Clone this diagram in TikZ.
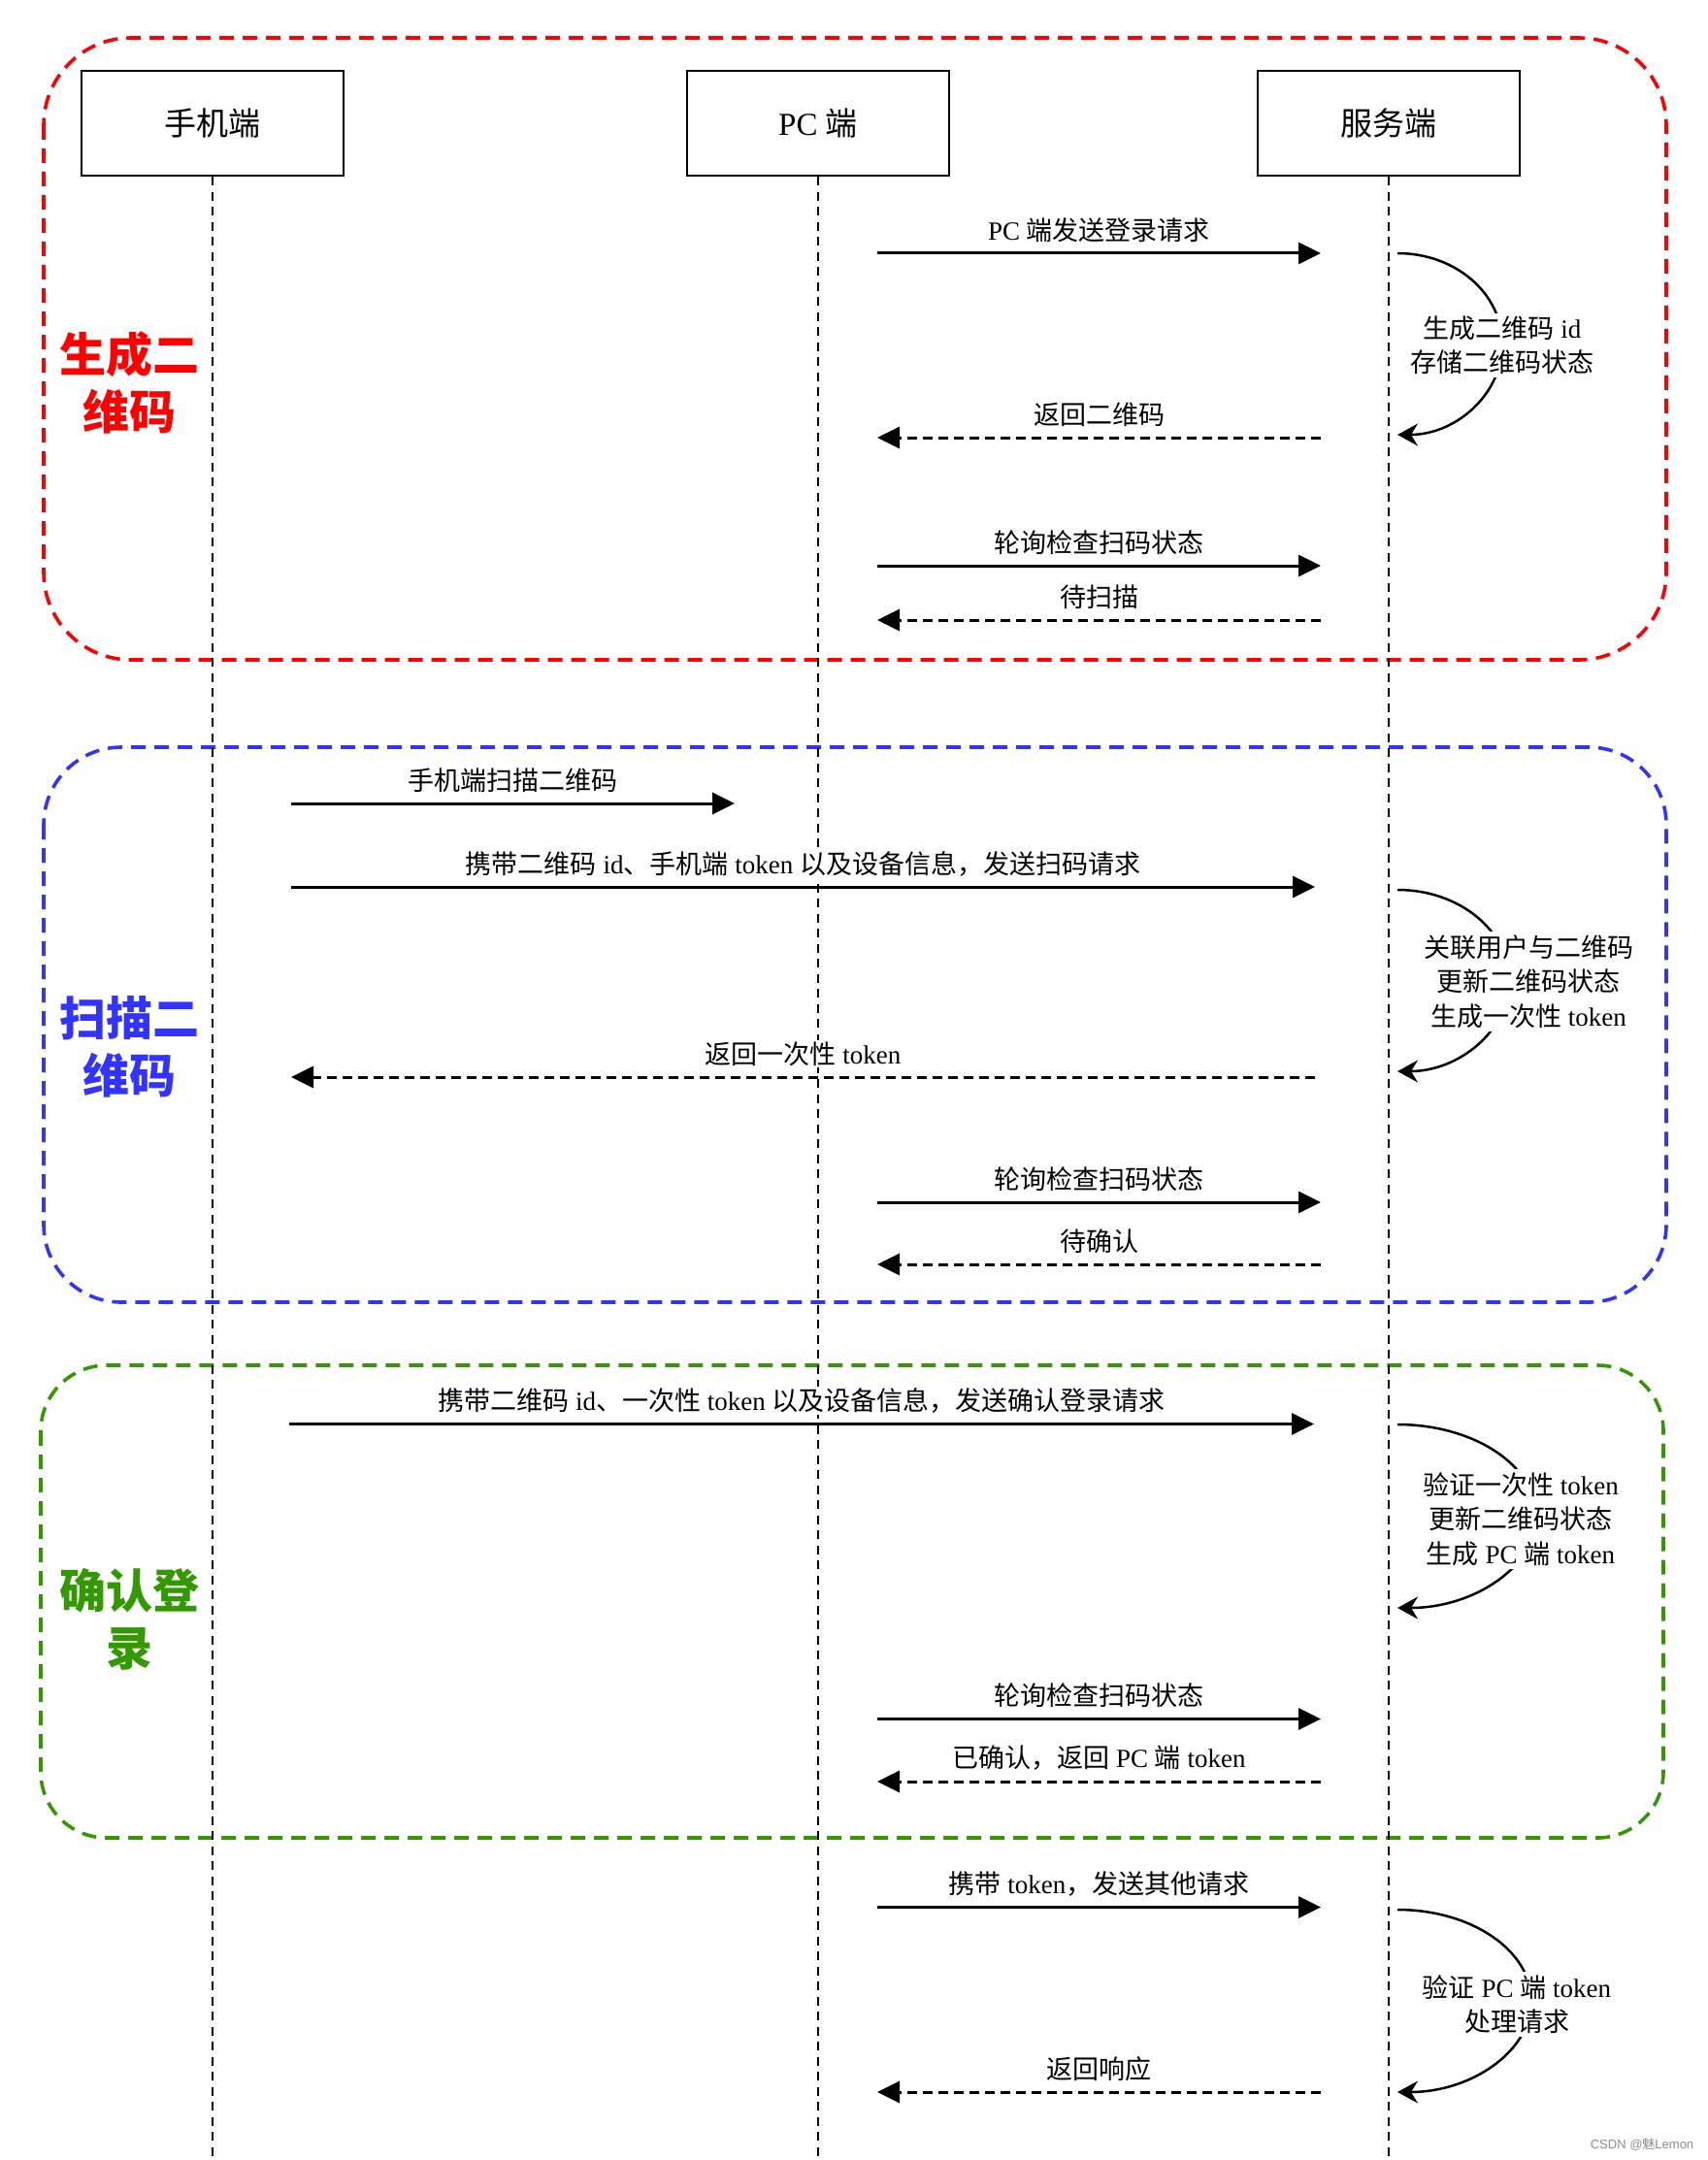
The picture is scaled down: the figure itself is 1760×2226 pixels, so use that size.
\documentclass[tikz,border=0pt]{standalone}
\usepackage{fontspec}
\setmainfont{Liberation Serif}
\newfontfamily\cjk{Noto Sans CJK SC}
\newfontfamily\wmfont{Liberation Sans}
\usetikzlibrary{arrows.meta}
\newcommand\zh[1]{{\cjk #1}}
\definecolor{grpred}{HTML}{FF0000}
\definecolor{grpblue}{HTML}{3333FF}
\definecolor{grpgreen}{HTML}{339900}
\newcommand\sdmsg[6]{%
  \coordinate (#1s) at (#2,#4);
  \coordinate (#1e) at (#3,#4);
  \draw[#5] (#1s) -- (#1e) node[lbl, midway, yshift=24pt] (#1t) {#6};
}
\begin{document}
\begin{tikzpicture}[x=1pt,y=-1pt,
  header/.style={draw, line width=2.7pt, minimum width=270pt, minimum height=108pt, font=\fontsize{33}{40}\selectfont, inner sep=0pt},
  lifeline/.style={line width=2.4pt, dash pattern=on 9pt off 6.5pt},
  group/.style={line width=3.6pt, dash pattern=on 15pt off 9pt},
  grouplbl/.style={font=\cjk\bfseries\fontsize{48}{59}\selectfont, align=center, inner sep=0pt},
  msgsolid/.style={line width=3pt, -{Triangle[length=23pt,width=22pt]}},
  msgdash/.style={msgsolid, dash pattern=on 10pt off 6pt},
  lbl/.style={font=\fontsize{27}{35.5}\selectfont, fill=white, inner sep=2pt},
  selfloop/.style={line width=2.5pt, -{Stealth[length=21pt,width=23pt,inset=7pt]}},
  looplbl/.style={lbl, align=center, inner sep=3pt},
]
\useasboundingbox (0,0) rectangle (1760,2226);
\fill[white] (0,0) rectangle (1760,2226);

% groups
\draw[group, grpred, rounded corners=90pt] (45,39) rectangle (1717,680);
\draw[group, grpblue, rounded corners=80pt] (45,770) rectangle (1717,1342);
\draw[group, grpgreen, rounded corners=68pt] (42,1407) rectangle (1714,1894);

\node[grouplbl, text=grpred] (g1) at (133,394.5) {生成二\\维码};
\node[grouplbl, text=grpblue] (g2) at (133,1079) {扫描二\\维码};
\node[grouplbl, text=grpgreen] (g3) at (133,1669) {确认登\\录};

% headers and lifelines
\node[header] (mob) at (219,127) {\zh{手机端}};
\node[header] (pc) at (843,127) {PC \zh{端}};
\node[header] (srv) at (1431,127) {\zh{服务端}};
\coordinate (mobEnd) at (219,2226);
\coordinate (pcEnd) at (843,2226);
\coordinate (srvEnd) at (1431,2226);
\draw[lifeline] (mob.south) -- (mobEnd);
\draw[lifeline] (pc.south) -- (pcEnd);
\draw[lifeline] (srv.south) -- (srvEnd);

% messages
\sdmsg{m1}{904}{1361}{261}{msgsolid}{PC \zh{端发送登录请求}}
\sdmsg{m2}{1361}{904}{451}{msgdash}{\zh{返回二维码}}
\sdmsg{m3}{904}{1361}{583}{msgsolid}{\zh{轮询检查扫码状态}}
\sdmsg{m4}{1361}{904}{639}{msgdash}{\zh{待扫描}}
\sdmsg{m5}{300}{757}{828}{msgsolid}{\zh{手机端扫描二维码}}
\sdmsg{m6}{300}{1355}{914}{msgsolid}{\zh{携带二维码} id\zh{、手机端} token \zh{以及设备信息，发送扫码请求}}
\sdmsg{m7}{1355}{300}{1110}{msgdash}{\zh{返回一次性} token}
\sdmsg{m8}{904}{1361}{1239}{msgsolid}{\zh{轮询检查扫码状态}}
\sdmsg{m9}{1361}{904}{1303}{msgdash}{\zh{待确认}}
\sdmsg{m10}{298}{1354}{1467.5}{msgsolid}{\zh{携带二维码} id\zh{、一次性} token \zh{以及设备信息，发送确认登录请求}}
\sdmsg{m11}{904}{1361}{1771.5}{msgsolid}{\zh{轮询检查扫码状态}}
\sdmsg{m12}{1361}{904}{1836}{msgdash}{\zh{已确认，返回} PC \zh{端} token}
\sdmsg{m13}{904}{1361}{1965.5}{msgsolid}{\zh{携带} token\zh{，发送其他请求}}
\sdmsg{m14}{1361}{904}{2156}{msgdash}{\zh{返回响应}}

% self loops on server
\coordinate (l1s) at (1440,261); \coordinate (l1p) at (1548,354.5); \coordinate (l1e) at (1440,448);
\draw[selfloop] (l1s) .. controls +(60,0) and +(0,-52) .. (l1p) .. controls +(0,52) and +(60,0) .. (l1e);
\node[looplbl] (l1t) at (1548,356) {\zh{生成二维码} id\\\zh{存储二维码状态}};

\coordinate (l2s) at (1440,917); \coordinate (l2p) at (1555,1010.5); \coordinate (l2e) at (1440,1104);
\draw[selfloop] (l2s) .. controls +(63,0) and +(0,-52) .. (l2p) .. controls +(0,52) and +(63,0) .. (l2e);
\node[looplbl] (l2t) at (1575,1011.5) {\zh{关联用户与二维码}\\\zh{更新二维码状态}\\\zh{生成一次性} token};

\coordinate (l3s) at (1440,1468); \coordinate (l3p) at (1583,1562.5); \coordinate (l3e) at (1440,1657);
\draw[selfloop] (l3s) .. controls +(79,0) and +(0,-52) .. (l3p) .. controls +(0,52) and +(79,0) .. (l3e);
\node[looplbl] (l3t) at (1567,1565.5) {\zh{验证一次性} token\\\zh{更新二维码状态}\\\zh{生成} PC \zh{端} token};

\coordinate (l4s) at (1440,1968); \coordinate (l4p) at (1578,2062); \coordinate (l4e) at (1440,2156);
\draw[selfloop] (l4s) .. controls +(76,0) and +(0,-52) .. (l4p) .. controls +(0,52) and +(76,0) .. (l4e);
\node[looplbl] (l4t) at (1563,2065.5) {\zh{验证} PC \zh{端} token\\\zh{处理请求}};

% watermark
\node[font=\wmfont\fontsize{13}{15}\selectfont, text=black!45, inner sep=0pt] (wm) at (1692,2210) {CSDN @\zh{魅}Lemon};
\end{tikzpicture}
\end{document}
